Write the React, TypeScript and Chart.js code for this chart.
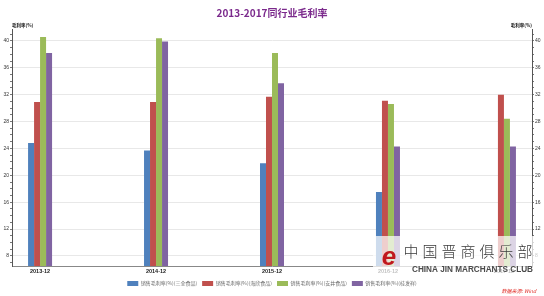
import React, { useEffect, useRef } from 'react';
import { Chart, registerables, CategoryScale } from 'chart.js';

Chart.register(...registerables);

class PaddedCategoryScale extends (CategoryScale as any) {
  static id = 'paddedCategory';
  static defaults = { ticks: { callback: (CategoryScale as any).defaults.ticks.callback } };
  configure() {
    super.configure();
    const pad = (this as any).options.edgePad ?? 0.5;
    (this as any)._startValue = (this as any).min - pad;
    (this as any)._valueRange = (this as any).max - (this as any).min + 2 * pad;
  }
}
Chart.register(PaddedCategoryScale as any);

const categories = ['2013-12', '2014-12', '2015-12', '2016-12', '2017-12'];
const seriesNames = [
  '销售毛利率(%)(三全食品)',
  '销售毛利率(%)(海欣食品)',
  '销售毛利率(%)(安井食品)',
  '销售毛利率(%)(桂发祥)',
];
const blueValues = [24.8, 23.7, 21.8, 17.5, null];
const redValues = [30.9, 30.9, 31.7, 31.1, 32.0];
const greenValues = [40.6, 40.4, 38.2, 30.6, 28.4];
const purpleValues = [38.2, 39.9, 33.7, 24.3, 24.3];
const yTickLabels = [8, 12, 16, 20, 24, 28, 32, 36, 40];
const yMinorTicks = [7, 9, 10, 11, 13, 14, 15, 17, 18, 19, 21, 22, 23, 25, 26, 27, 29, 30, 31, 33, 34, 35, 37, 38, 39, 41];
const colors = ['#4F81BD', '#C0504D', '#9BBB59', '#8064A2'];
const titleText = '2013-2017同行业毛利率';
const axisUnit = '毛利率(%)';
const sourceText = '数据来源: Wind';
const watermarkCn = '中国晋商俱乐部';
const watermarkEn = 'CHINA JIN MARCHANTS CLUB';

const FONT = '"Liberation Sans", Arial, sans-serif';
const CJK = '"Noto Sans CJK SC", "Liberation Sans", sans-serif';

const extrasPlugin = {
  id: 'extras',
  afterDraw(chart: any) {
    const ctx = chart.ctx;
    const area = chart.chartArea;
    ctx.save();
    // axis unit labels
    ctx.font = `bold 4.5px ${CJK}`;
    ctx.fillStyle = '#111';
    ctx.textBaseline = 'middle';
    ctx.textAlign = 'left';
    ctx.fillText(axisUnit, area.left, area.top - 4);
    ctx.textAlign = 'right';
    ctx.fillText(axisUnit, area.right, area.top - 4);
    // watermark
    ctx.fillStyle = 'rgba(255,255,255,0.72)';
    ctx.fillRect(373, 236, 171, 41);
    ctx.fillStyle = '#c0181e';
    ctx.font = `italic bold 26px ${FONT}`;
    ctx.textAlign = 'center';
    ctx.fillText('e', 389, 258);
    ctx.fillStyle = '#3a3a3a';
    ctx.font = `300 15px ${CJK}`;
    ctx.textAlign = 'center';
    Array.from(watermarkCn).forEach((ch, i) => {
      ctx.fillText(ch, 411 + i * 19, 251);
    });
    ctx.fillStyle = '#4a4a4a';
    ctx.font = `bold 8.2px ${FONT}`;
    ctx.textAlign = 'left';
    ctx.fillText(watermarkEn, 412, 270);
    // source
    ctx.fillStyle = '#e0302a';
    ctx.font = `italic 5px ${CJK}`;
    ctx.textAlign = 'right';
    ctx.fillText(sourceText, 536, 291);
    ctx.restore();
  },
};

function yScale(position: 'left' | 'right', onArea: boolean) {
  return {
    position,
    min: 6.5,
    max: 41.7,
    afterBuildTicks: (s: any) => {
      s.ticks = [...yTickLabels, ...yMinorTicks].sort((a, b) => a - b).map((v) => ({ value: v }));
    },
    afterFit: (s: any) => {
      s.width = 12;
    },
    ticks: {
      autoSkip: false,
      padding: 1,
      color: '#333',
      font: { size: 5, family: FONT },
      callback: (v: any) => (yTickLabels.includes(v) ? String(v) : ''),
    },
    grid: {
      drawOnChartArea: onArea,
      tickLength: 2,
      tickColor: '#777',
      color: (c: any) => (c.tick && yTickLabels.includes(c.tick.value) ? '#e8e8e8' : 'rgba(0,0,0,0)'),
    },
    border: { color: '#555', width: 1 },
  };
}

export default function App() {
  const ref = useRef<HTMLCanvasElement>(null);
  useEffect(() => {
    if (!ref.current) return;
    const all = [blueValues, redValues, greenValues, purpleValues];
    const chart = new Chart(ref.current, {
      type: 'bar',
      data: {
        labels: categories,
        datasets: all.map((vals, k) => ({
          label: seriesNames[k],
          data: vals,
          backgroundColor: colors[k],
          borderWidth: 0,
          categoryPercentage: 0.207,
          barPercentage: 1,
          yAxisID: 'y',
        })),
      },
      options: {
        animation: false,
        responsive: false,
        layout: { padding: { top: 0, bottom: 0, left: 0, right: 0 } },
        plugins: {
          title: {
            display: true,
            text: titleText,
            color: '#7B2A8C',
            font: { size: 10, weight: 'bold', family: CJK },
            padding: { top: 7, bottom: 10.5 },
          },
          legend: {
            position: 'bottom',
            labels: {
              boxWidth: 11,
              boxHeight: 5,
              padding: 5,
              color: '#666',
              font: { size: 5, family: CJK },
            },
          },
          tooltip: { enabled: false },
        },
        scales: {
          x: {
            type: 'paddedCategory',
            edgePad: 0.242,
            afterFit: (s: any) => {
              s.height = 10;
            },
            ticks: {
              autoSkip: false,
              maxRotation: 0,
              padding: 2,
              color: '#222',
              font: { size: 5.5, weight: 'bold', family: FONT },
            },
            grid: { display: false, drawTicks: false, tickLength: 0 },
            border: { color: '#888' },
          },
          y: yScale('left', true),
          y2: yScale('right', false),
        },
      } as any,
      plugins: [extrasPlugin],
    });
    return () => chart.destroy();
  }, []);
  return (
    <div style={{ position: 'absolute', left: 0, top: 0, width: 544, height: 296, background: '#fff' }}>
      <canvas ref={ref} width={544} height={296} style={{ display: 'block' }} />
    </div>
  );
}
